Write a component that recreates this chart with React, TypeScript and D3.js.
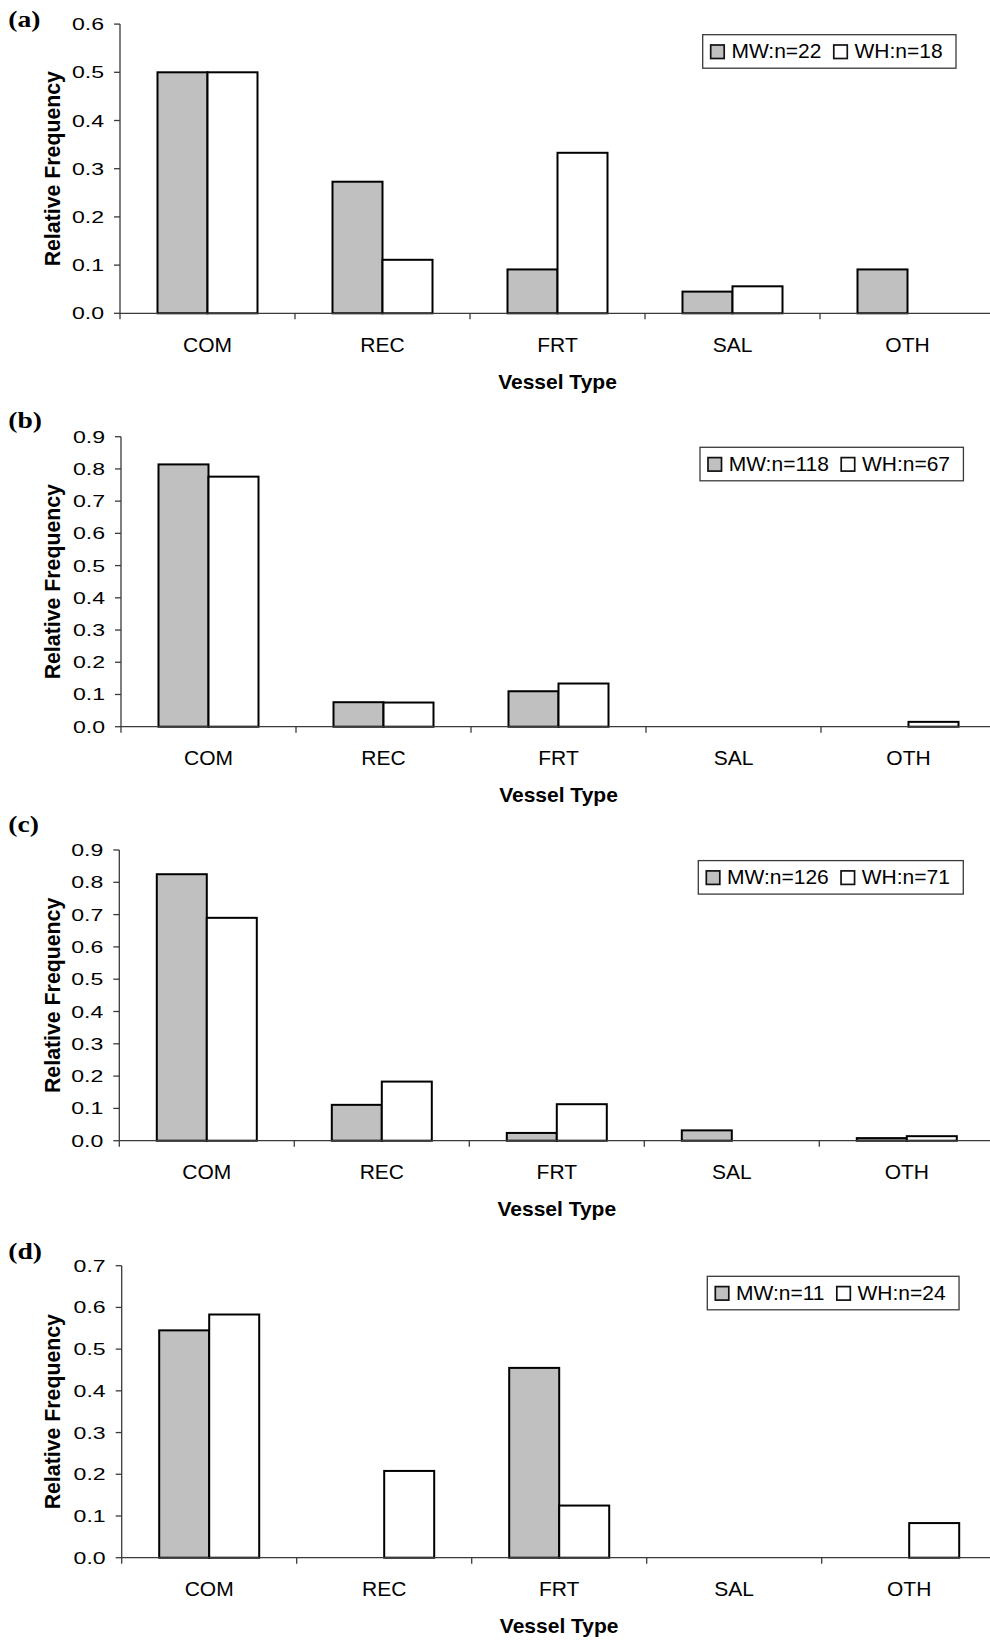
import React, { useEffect, useRef } from 'react';
import * as d3 from 'd3';

const categories = ['COM', 'REC', 'FRT', 'SAL', 'OTH'];
const seriesNames = ['MW', 'WH'];
const panelLabels = ['(a)', '(b)', '(c)', '(d)'];
const mwA = [0.5, 0.273, 0.091, 0.045, 0.091];
const whA = [0.5, 0.111, 0.333, 0.056, 0];
const mwB = [0.814, 0.076, 0.11, 0, 0];
const whB = [0.776, 0.075, 0.134, 0, 0.015];
const mwC = [0.825, 0.111, 0.024, 0.032, 0.008];
const whC = [0.69, 0.183, 0.113, 0, 0.014];
const mwD = [0.545, 0, 0.455, 0, 0];
const whD = [0.583, 0.208, 0.125, 0, 0.083];
const nMW = [22, 118, 126, 11];
const nWH = [18, 67, 71, 24];
const yMaxes = [0.6, 0.9, 0.9, 0.7];
const xTitle = 'Vessel Type';
const yTitle = 'Relative Frequency';

const mwSeries = [mwA, mwB, mwC, mwD];
const whSeries = [whA, whB, whC, whD];

const layout = [
  { axisX: 120, yTop: 24.1, yZero: 313.3, labelY: 26.7, legendX: 702.7 },
  { axisX: 121, yTop: 436.7, yZero: 726.7, labelY: 427.7, legendX: 700 },
  { axisX: 119.3, yTop: 850, yZero: 1140.7, labelY: 831.7, legendX: 698.3 },
  { axisX: 121.7, yTop: 1265.7, yZero: 1557.7, labelY: 1259, legendX: 707.3 },
];

const W = 990;
const H = 1641;
const PLOT_W = 875;
const SANS = "'Liberation Sans', Arial, sans-serif";
const SERIF = "'Liberation Serif', 'Times New Roman', serif";
const FILLS: Record<string, string> = { MW: '#c0c0c0', WH: '#ffffff' };
const AXIS = '#3a3a3a';

export default function App() {
  const ref = useRef<SVGSVGElement>(null);

  useEffect(() => {
    const svg = d3.select(ref.current);
    svg.selectAll('*').remove();
    svg.append('rect').attr('width', W).attr('height', H).attr('fill', '#fff');

    layout.forEach((L, i) => {
      const g = svg.append('g');
      const yMax = yMaxes[i];
      const y = d3.scaleLinear().domain([0, yMax]).range([L.yZero, L.yTop]);
      const x = d3.scaleBand<string>().domain(categories).range([L.axisX, L.axisX + PLOT_W]).padding(0);
      const xs = d3.scaleBand<string>().domain(seriesNames).range([0, x.bandwidth()]).paddingInner(0).paddingOuter(0.75);

      // bars
      const rows = categories.flatMap((c, k) => [
        { c, s: 'MW', v: mwSeries[i][k] },
        { c, s: 'WH', v: whSeries[i][k] },
      ]).filter(d => d.v > 0);
      g.selectAll('rect.bar').data(rows).enter().append('rect')
        .attr('x', d => (x(d.c) as number) + (xs(d.s) as number))
        .attr('y', d => y(d.v))
        .attr('width', xs.bandwidth())
        .attr('height', d => L.yZero - y(d.v))
        .attr('fill', d => FILLS[d.s])
        .attr('stroke', '#000')
        .attr('stroke-width', 2);

      // y axis
      const ticks = d3.range(0, Math.round(yMax * 10) + 1).map(t => t / 10);
      g.append('line').attr('x1', L.axisX).attr('x2', L.axisX).attr('y1', L.yTop).attr('y2', L.yZero + 6)
        .attr('stroke', AXIS).attr('stroke-width', 1.3);
      ticks.forEach(t => {
        g.append('line').attr('x1', L.axisX - 6).attr('x2', L.axisX).attr('y1', y(t)).attr('y2', y(t))
          .attr('stroke', AXIS).attr('stroke-width', 1.3);
        g.append('text')
          .attr('transform', `translate(${L.axisX - 16},${y(t) + 6}) scale(1.4,1)`)
          .attr('text-anchor', 'end')
          .attr('font-family', SANS).attr('font-size', 16.5).attr('fill', '#000')
          .text(d3.format('.1f')(t));
      });

      // x axis
      g.append('line').attr('x1', L.axisX).attr('x2', L.axisX + PLOT_W).attr('y1', L.yZero).attr('y2', L.yZero)
        .attr('stroke', AXIS).attr('stroke-width', 1.3);
      categories.forEach((c, k) => {
        const bx = (x(c) as number) + x.bandwidth();
        g.append('line').attr('x1', bx).attr('x2', bx).attr('y1', L.yZero).attr('y2', L.yZero + 6)
          .attr('stroke', AXIS).attr('stroke-width', 1.3);
        g.append('text')
          .attr('x', (x(c) as number) + x.bandwidth() / 2).attr('y', L.yZero + 38.5)
          .attr('text-anchor', 'middle')
          .attr('font-family', SANS).attr('font-size', 21).attr('fill', '#000')
          .text(c);
      });

      // titles
      g.append('text')
        .attr('x', L.axisX + PLOT_W / 2).attr('y', L.yZero + 75.7)
        .attr('text-anchor', 'middle')
        .attr('font-family', SANS).attr('font-size', 21).attr('font-weight', 'bold')
        .text(xTitle);
      g.append('text')
        .attr('transform', `translate(60,${(L.yTop + L.yZero) / 2}) rotate(-90)`)
        .attr('text-anchor', 'middle')
        .attr('font-family', SANS).attr('font-size', 21.3).attr('font-weight', 'bold')
        .text(yTitle);
      g.append('text')
        .attr('transform', `translate(8.3,${L.labelY}) scale(1.2,1)`)
        .attr('font-family', SERIF).attr('font-size', 23).attr('font-weight', 'bold')
        .text(panelLabels[i]);

      // legend
      const lg = g.append('g');
      const top = L.yTop + 10.6;
      const boxH = 33.5;
      const box = lg.append('rect').attr('x', L.legendX).attr('y', top).attr('height', boxH)
        .attr('fill', '#fff').attr('stroke', AXIS).attr('stroke-width', 1.3);
      let cx = L.legendX + 8;
      const labels = [`MW:n=${nMW[i]}`, `WH:n=${nWH[i]}`];
      seriesNames.forEach((s, k) => {
        lg.append('rect').attr('x', cx).attr('y', top + 10.3).attr('width', 13.5).attr('height', 13.5)
          .attr('fill', FILLS[s]).attr('stroke', '#111').attr('stroke-width', 1.7);
        cx += 20.7;
        const tx = lg.append('text').attr('x', cx).attr('y', top + 23.6)
          .attr('font-family', SANS).attr('font-size', 21).attr('fill', '#000')
          .text(labels[k]);
        const tw = (tx.node() as SVGTextElement).getComputedTextLength();
        cx += tw + (k === 0 ? 12.3 : 13.4);
      });
      box.attr('width', cx - L.legendX);
    });
  }, []);

  return (
    <svg ref={ref} width={W} height={H}
      style={{ position: 'absolute', left: 0, top: 0, display: 'block', background: '#fff' }} />
  );
}
